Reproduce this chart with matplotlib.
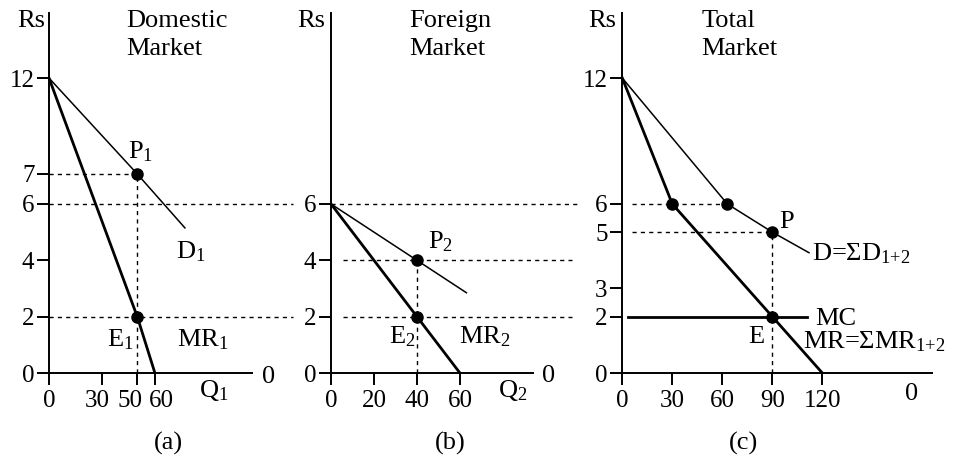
import numpy as np
import matplotlib
matplotlib.use('Agg')
import matplotlib.pyplot as plt
from matplotlib.transforms import ScaledTranslation

plt.rcParams['font.family'] = ['Liberation Serif', 'DejaVu Serif']
plt.rcParams['mathtext.default'] = 'regular'

# (a) 国内市场 Domestic market
d1_q = [0, 50, 77]
d1_p = [12, 7, 5.15]
mr1_q = [0, 50, 60]
mr1_p = [12, 2, 0]
pts_a_q = [50, 50]
pts_a_p = [7, 2]

# (b) 国外市场 Foreign market
d2_q = [0, 40, 63]
d2_p = [6, 4, 2.85]
mr2_q = [0, 40, 60]
mr2_p = [6, 2, 0]
pts_b_q = [40, 40]
pts_b_p = [4, 2]

# (c) 总市场 Total market
d_q = [0, 63, 90, 112]
d_p = [12, 6, 5, 4.27]
mr_q = [0, 30, 90, 120]
mr_p = [12, 6, 2, 0]
mc_q = [3.5, 111]
mc_p = [2, 2]
pts_c_q = [30, 63, 90, 90]
pts_c_p = [6, 6, 5, 2]

xticks_a = [0, 30, 50, 60]
xticks_b = [0, 20, 40, 60]
xticks_c = [0, 30, 60, 90, 120]
yticks_a = [0, 2, 4, 6, 7, 12]
yticks_b = [0, 2, 4, 6]
yticks_c = [0, 2, 3, 5, 6, 12]

# 纵轴不是等比例画的，12 那一段被压缩了
YV = [-10, 0, 6, 7, 12, 30]
YP = [-10, 0, 6, 7.065, 10.47, 10.47 + 18 * 0.681]


def fwd(v):
    return np.interp(v, YV, YP)


def inv(p):
    return np.interp(p, YP, YV)


FS = 19
TICK_FS = 18
THIN = 1.1
THICK = 2.0
DASH = dict(color='black', linestyle=(0, (3, 3)), linewidth=1.0, clip_on=False)


def setup_axes(ax, xmax, xticks, yticks):
    ax.set_yscale('function', functions=(fwd, inv))
    ax.set_xlim(0, xmax)
    ax.set_ylim(0, 15.39)
    ax.set_xticks(xticks)
    ax.set_yticks(yticks)
    ax.set_xticklabels([str(t) for t in xticks], fontsize=TICK_FS)
    ax.set_yticklabels([str(t) for t in yticks], fontsize=TICK_FS)
    ax.minorticks_off()
    for s in ['top', 'right']:
        ax.spines[s].set_visible(False)
    for s in ['left', 'bottom']:
        ax.spines[s].set_linewidth(1.4)
    ax.tick_params(axis='both', direction='out', length=8.5, width=1.4)
    ax.tick_params(axis='y', pad=2)
    ax.tick_params(axis='x', pad=4)
    ax.patch.set_visible(False)


def txt(ax, x, y, s, **kw):
    kw.setdefault('ha', 'left')
    kw.setdefault('va', 'baseline')
    kw.setdefault('fontsize', FS)
    ax.text(x, y, s, **kw)


fig = plt.figure(figsize=(9.54, 4.62), dpi=100)
H = 0.7792
B = 0.19264
ax_a = fig.add_axes([0.05136, B, 0.21279, H])
ax_b = fig.add_axes([0.34696, B, 0.21174, H])
ax_c = fig.add_axes([0.6523, B, 0.32432, H])

# ---- (a) ----
ax = ax_a
setup_axes(ax, 115, xticks_a, yticks_a)
# 30、50、60 挤在一起，标签稍微错开
for i, dx in [(1, -5), (2, -7), (3, 6)]:
    lab = ax.xaxis.get_major_ticks()[i].label1
    lab.set_transform(lab.get_transform() + ScaledTranslation(dx / 100, 0, fig.dpi_scale_trans))
ax.plot([0, 50], [7, 7], **DASH)
ax.plot([50, 50], [0, 7], **DASH)
ax.plot([0, 138], [6, 6], **DASH)
ax.plot([0, 138], [2, 2], **DASH)
ax.plot(d1_q, d1_p, color='black', linewidth=THIN)
ax.plot(mr1_q, mr1_p, color='black', linewidth=THICK)
ax.plot(pts_a_q, pts_a_p, 'o', color='black', markersize=8, zorder=5)
txt(ax, -2.3, 14.68, 'Rs', ha='right')
txt(ax, 44.0, 14.68, 'Domestic')
txt(ax, 44.0, 13.2, 'Market')
txt(ax, 44.8, 7.79, 'P$_1$')
txt(ax, 71.8, 4.08, 'D$_1$')
txt(ax, 32.7, 0.93, 'E$_1$')
txt(ax, 72.3, 0.93, 'MR$_1$')
txt(ax, 85.2, -0.84, 'Q$_1$')
txt(ax, 120.5, -0.36, '0')
txt(ax, 67.9, -2.73, '(a)', ha='center')

# ---- (b) ----
ax = ax_b
setup_axes(ax, 94, xticks_b, yticks_b)
ax.plot([0, 114.4], [6, 6], **DASH)
ax.plot([5.6, 112], [4, 4], **DASH)
ax.plot([5.6, 112], [2, 2], **DASH)
ax.plot([40, 40], [0, 4], **DASH)
ax.plot(d2_q, d2_p, color='black', linewidth=THIN)
ax.plot(mr2_q, mr2_p, color='black', linewidth=THICK)
ax.plot(pts_b_q, pts_b_p, 'o', color='black', markersize=8, zorder=5)
txt(ax, -2.8, 14.68, 'Rs', ha='right')
txt(ax, 36.4, 14.68, 'Foreign')
txt(ax, 36.4, 13.2, 'Market')
txt(ax, 45.3, 4.43, 'P$_2$')
txt(ax, 27.1, 1.05, 'E$_2$')
txt(ax, 59.7, 1.05, 'MR$_2$')
txt(ax, 77.9, -0.84, 'Q$_2$')
txt(ax, 98, -0.31, '0')
txt(ax, 55.4, -2.73, '(b)', ha='center')

# ---- (c) ----
ax = ax_c
setup_axes(ax, 185.6, xticks_c, yticks_c)
ax.plot([5.8, 63], [6, 6], **DASH)
ax.plot([5.8, 90], [5, 5], **DASH)
ax.plot([90, 90], [0, 5], **DASH)
ax.plot(d_q, d_p, color='black', linewidth=THIN)
ax.plot(mr_q, mr_p, color='black', linewidth=THICK)
ax.plot(mc_q, mc_p, color='black', linewidth=THICK)
ax.plot(pts_c_q, pts_c_p, 'o', color='black', markersize=8, zorder=5)
txt(ax, -3.4, 14.68, 'Rs', ha='right')
txt(ax, 47.6, 14.68, 'Total')
txt(ax, 47.6, 13.2, 'Market')
txt(ax, 94.2, 5.14, 'P')
txt(ax, 113.6, 4.01, 'D=ΣD$_{1{+}2}$')
txt(ax, 115.6, 1.70, 'MC')
txt(ax, 75.6, 1.05, 'E')
txt(ax, 108.6, 0.88, 'MR=ΣMR$_{1{+}2}$')
txt(ax, 169.6, -0.96, '0')
txt(ax, 72.8, -2.73, '(c)', ha='center')

plt.savefig('out.png', dpi=100, facecolor='white')
